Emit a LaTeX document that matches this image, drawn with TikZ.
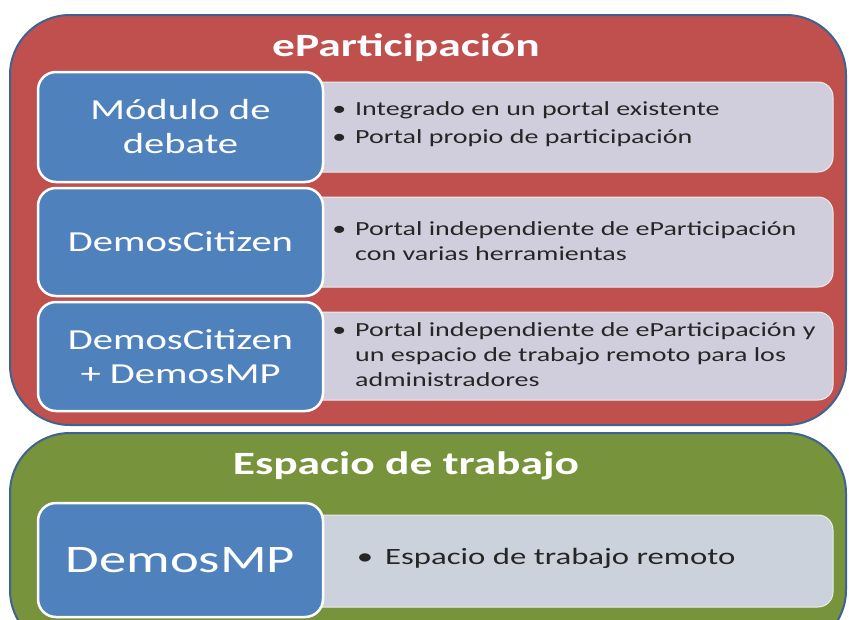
\documentclass[tikz,border=0pt]{standalone}
\usepackage{fontspec}
\setmainfont{Carlito}[FakeStretch=1.4]

\definecolor{epred}{HTML}{C0504D}
\definecolor{epgreen}{HTML}{77933C}
\definecolor{epblue}{HTML}{4F81BD}
\definecolor{epedge}{HTML}{3F6391}
\definecolor{eplilac}{HTML}{D0CDDC}
\definecolor{epslate}{HTML}{CBD2DB}
\definecolor{eptext}{HTML}{262626}

\tikzset{
  outerbox/.style={draw=epedge, line width=2pt, rounded corners=60pt, inner sep=0pt},
  grouptitle/.style={text=white, font=\bfseries\fontsize{32.5}{38}\selectfont},
  bluebox/.style={draw=white, line width=2.5pt, fill=epblue, rounded corners=18pt,
    minimum width=285pt, text=white, align=center, font=\fontsize{29}{34}\selectfont},
  itembox/.style={draw=white!85!gray, line width=1pt, rounded corners=15pt,
    minimum width=533pt},
  itemtext/.style={anchor=west, align=left, inner sep=0pt, text=eptext,
    font=\fontsize{20}{25}\selectfont},
}
\newcommand{\bul}[1][9pt]{\llap{\textbullet\hspace{#1}}}

\begin{document}
\begin{tikzpicture}[x=1pt, y=-1pt]
\useasboundingbox (0,0) rectangle (849,619);
\clip (0,0) rectangle (849,619);

% outer groups
\node [outerbox, fill=epred, minimum width=836pt, minimum height=410pt] (epart) at (428,220) {};
\node [outerbox, fill=epgreen, minimum width=836pt, minimum height=217pt] (espacio) at (428,541.5) {};
\node [grouptitle] (eparttitle) at (406,48) {eParticipación};
\node [grouptitle] (espaciotitle) at (406,466) {Espacio de trabajo};

% detail boxes
\node [itembox, fill=eplilac, minimum height=90pt] (det1) at (566.5,127) {};
\node [itembox, fill=eplilac, minimum height=90pt] (det2) at (566.5,242) {};
\node [itembox, fill=eplilac, minimum height=88pt] (det3) at (566.5,356) {};
\node [itembox, fill=epslate, minimum height=92pt] (det4) at (566.5,561) {};

% tools
\node [bluebox, minimum height=110pt] (modulo) at (180.5,127) {Módulo de\\debate};
\node [bluebox, minimum height=108pt] (citizen) at (180.5,242) {DemosCitizen};
\node [bluebox, minimum height=109pt] (citizenmp) at (180.5,356.5) {DemosCitizen\\+ DemosMP};
\node [bluebox, minimum height=114pt, font=\fontsize{39}{44}\selectfont] (demosmp) at (180.5,560) {DemosMP};

% bullet texts
\node [itemtext] (txt1) at (355,124) {\bul Integrado en un portal existente\\[3pt]\bul Portal propio de participación};
\node [itemtext] (txt2) at (355,241) {\bul Portal independiente de eParticipación\\con varias herramientas};
\node [itemtext] (txt3) at (355,355) {\bul Portal independiente de eParticipación y\\un espacio de trabajo remoto para los\\administradores};
\node [itemtext, font=\fontsize{23.4}{28}\selectfont] (txt4) at (385,558) {\bul[12pt]Espacio de trabajo remoto};

\end{tikzpicture}
\end{document}
